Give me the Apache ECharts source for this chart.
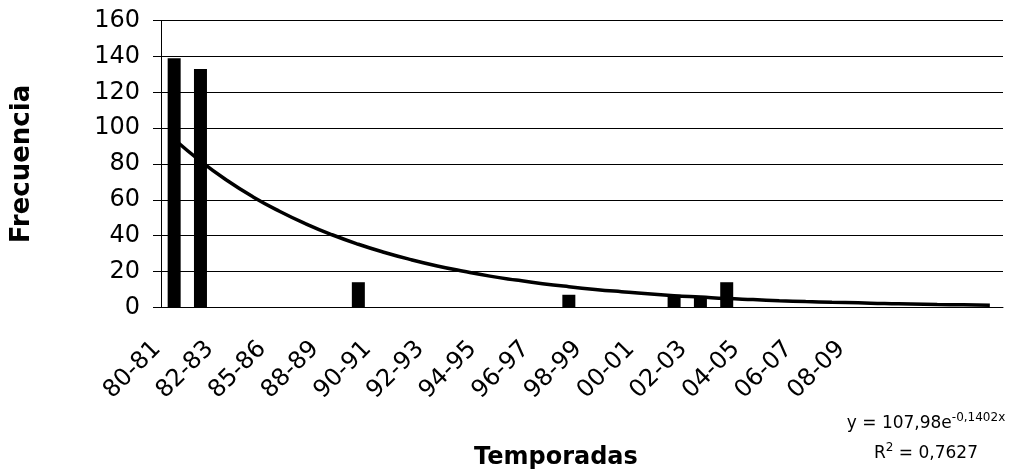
<!DOCTYPE html>
<html>
<head>
<meta charset="utf-8">
<script src="https://cdn.jsdelivr.net/npm/echarts@6/dist/echarts.min.js"></script>
<style>
html,body{margin:0;padding:0;background:#fff;}
#chart{width:1009px;height:473px;}
</style>
</head>
<body>
<div id="chart"></div>
<script>
// Seasons (category axis); only every other one is labelled in the chart
const categories = ['80-81','81-82','82-83','83-84','85-86','86-87','88-89','89-90','90-91','91-92',
  '92-93','93-94','94-95','95-96','96-97','97-98','98-99','99-00','00-01','01-02',
  '02-03','03-04','04-05','05-06','06-07','07-08','08-09','09-10','','','',''];
// Frequency per season (null = no bar)
const frecuencia = [139,133,null,null,null,null,null,14,null,null,
  null,null,null,null,null,7,null,null,null,7,
  6,14,null,null,null,null,null,null,null,null,null,null];
// Exponential trend line values
const tendencia = [93.8,81.6,70.9,61.6,53.6,46.6,40.5,35.2,30.6,26.6,
  23.1,20.1,17.4,15.2,13.2,11.5,10.0,8.7,7.5,6.5,
  5.7,4.9,4.3,3.7,3.2,2.8,2.5,2.1,1.9,1.6,1.4,1.2];
const yTicks = [0,20,40,60,80,100,120,140,160];

const FONT = 'DejaVu Sans';
const chart = echarts.init(document.getElementById('chart'), null, {renderer:'canvas'});
chart.setOption({
  animation:false,
  backgroundColor:'#fff',
  grid:{left:161,right:6,top:20.7,bottom:165.7,containLabel:false},
  xAxis:{
    type:'category',
    data:categories,
    boundaryGap:true,
    axisLine:{lineStyle:{color:'#000',width:1}},
    axisTick:{interval:0,length:8,lineStyle:{color:'#000'}},
    axisLabel:{interval:1,rotate:45,margin:21,padding:[0,24,0,0],
      fontFamily:FONT,fontSize:24,color:'#000'},
    splitLine:{show:false}
  },
  yAxis:{
    type:'value',
    min:yTicks[0],max:yTicks[yTicks.length-1],interval:20,
    name:'Frecuencia',nameLocation:'middle',nameGap:126,
    nameTextStyle:{fontFamily:FONT,fontSize:26,fontWeight:'bold',color:'#000'},
    axisLine:{show:true,lineStyle:{color:'#000',width:1}},
    axisTick:{show:true,length:8,lineStyle:{color:'#000'}},
    axisLabel:{margin:21,fontFamily:FONT,fontSize:24,color:'#000'},
    splitLine:{show:true,lineStyle:{color:'#000',width:1}}
  },
  series:[
    {type:'bar',data:frecuencia,barWidth:13,itemStyle:{color:'#000'},z:2},
    {type:'line',data:tendencia,showSymbol:false,smooth:true,
      lineStyle:{color:'#000',width:3.5},z:3}
  ],
  graphic:[
    {type:'text',left:474,top:446,style:{text:'Temporadas',font:'bold 24px "DejaVu Sans"',fill:'#000'}},
    {type:'text',x:926,y:424,style:{
      text:'{b|y = 107,98e}{s|-0,1402x}',
      align:'center',verticalAlign:'middle',
      rich:{b:{fontFamily:FONT,fontSize:17,fill:'#000'},
            s:{fontFamily:FONT,fontSize:12,fill:'#000',padding:[0,0,13,0]}}
    }},
    {type:'text',x:926,y:454,style:{
      text:'{b|R}{s|2}{b| = 0,7627}',
      align:'center',verticalAlign:'middle',
      rich:{b:{fontFamily:FONT,fontSize:17,fill:'#000'},
            s:{fontFamily:FONT,fontSize:12,fill:'#000',padding:[0,0,13,0]}}
    }}
  ]
});
</script>
</body>
</html>
